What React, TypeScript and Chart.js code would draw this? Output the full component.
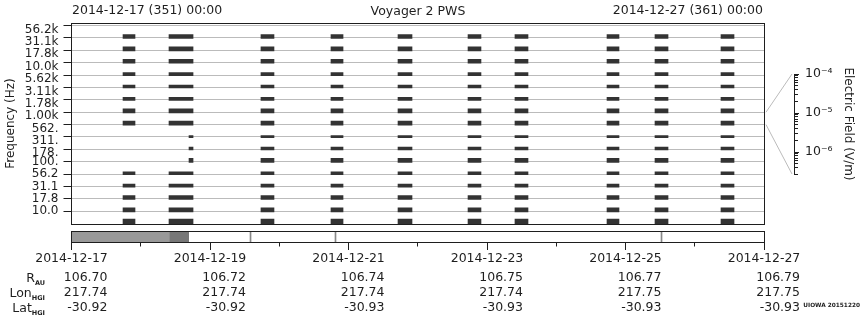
import React, { useEffect, useRef } from 'react';
import { Chart, registerables } from 'chart.js';

Chart.register(...registerables);

// ---------------- data ----------------
const titleStart = '2014-12-17 (351) 00:00';
const titleMain = 'Voyager 2 PWS';
const titleEnd = '2014-12-27 (361) 00:00';
const yAxisTitle = 'Frequency (Hz)';
const fieldTitle = 'Electric Field (V/m)';
const stampText = 'UIOWA 20151220';

// PWS channel labels (bottom -> top)
const freqLabels = ['10.0', '17.8', '31.1', '56.2', '100.', '178.', '311.', '562.', '1.00k', '1.78k', '3.11k', '5.62k', '10.0k', '17.8k', '31.1k', '56.2k'];

// Observation blocks, in days after 2014-12-17 00:00
const blockStart = [0.744, 1.408, 2.736, 3.747, 4.715, 5.726, 6.404, 7.733, 8.426, 9.379];
const blockEnd = [0.917, 1.755, 2.924, 3.921, 4.917, 5.913, 6.592, 7.906, 8.614, 9.567];

// 178 / 311 / 562 Hz channels: start of coverage inside each block (null = none)
const midChannels = [5, 6, 7];
const midStart: (number | null)[] = [null, 1.697, 2.736, 3.747, 4.715, 5.726, 6.404, 7.733, 8.426, 9.379];

// Coverage strip under the plot (days)
const stripStart = [0, 1.422];
const stripEnd = [1.422, 1.692];
const stripMarks = [2.578, 3.805, 8.513];

// Bottom axis (every 2 days)
const dateLabels = ['2014-12-17', '2014-12-19', '2014-12-21', '2014-12-23', '2014-12-25', '2014-12-27'];
const rAU = ['106.70', '106.72', '106.74', '106.75', '106.77', '106.79'];
const lonHGI = ['217.74', '217.74', '217.74', '217.74', '217.75', '217.75'];
const latHGI = ['-30.92', '-30.92', '-30.93', '-30.93', '-30.93', '-30.93'];
const rowNames = ['R', 'Lon', 'Lat'];
const rowSubs = ['AU', 'HGI', 'HGI'];

// Electric field colour-bar axis
const fieldMin = 2.75e-7;
const fieldMax = 1e-4;
const fieldChannel = 8;

// ---------------- styles ----------------
const FONT = "'DejaVu Sans', sans-serif";
const INK = '#1e1e1e';
const BAR = '#333333';
const GRID = '#bbbbbb';
const rowThickness = [5, 4, 4, 3, 3, 4, 3, 2, 4, 4, 3, 3, 3, 4, 4, 4];
const stripColors = ['#999999', '#777777'];
const markColor = '#888888';
const LABEL_DROP_FROM = 5; // upper tick labels sit a little below their tick
const LABEL_DROP_PX = 4;

const PLOT_LEFT = 71.5;
const PLOT_RIGHT_PAD = 96;
const PLOT_TOP = 23;
const PLOT_BOTTOM_PAD = 96;
const PLOT_H = 320 - PLOT_TOP - PLOT_BOTTOM_PAD;
const Y_MIN = -1.025;
const Y_MAX = 15.202;
const UNITS_PER_PX = (Y_MAX - Y_MIN) / PLOT_H;
const PX_PER_DAY = (860 - PLOT_RIGHT_PAD - PLOT_LEFT) / 10;

Chart.defaults.font.family = FONT;
Chart.defaults.color = INK;

const SUP: Record<string, string> = { '-': '⁻', '0': '⁰', '1': '¹', '2': '²', '3': '³', '4': '⁴', '5': '⁵', '6': '⁶', '7': '⁷', '8': '⁸', '9': '⁹' };
const powerLabel = (e: number) => '10' + String(e).split('').map((ch) => SUP[ch]).join('');
const isDecade = (v: number) => Math.abs(Math.log10(v) - Math.round(Math.log10(v))) < 1e-6;

const framePlugin = {
  id: 'frame',
  afterDatasetsDraw(chart: any) {
    const { ctx, chartArea: a } = chart;
    const l = Math.floor(a.left) + 0.5;
    const r = Math.floor(a.right) + 0.5;
    const t = Math.floor(a.top) + 0.5;
    const b = Math.floor(a.bottom) + 0.5;
    ctx.save();
    ctx.strokeStyle = INK;
    ctx.lineWidth = 1;
    ctx.strokeRect(l, t, r - l, b - t);
    ctx.restore();
  },
};

function buildMainDatasets() {
  return freqLabels.map((_, c) => {
    const t = rowThickness[c];
    const base = c === 0 ? Y_MIN : c - 1;
    const lift = c === 0 ? 0 : 0.6;
    const y = base + (t / 2 - lift) * UNITS_PER_PX;
    const data: any[] = [];
    blockStart.forEach((s, b) => {
      if (midChannels.includes(c)) {
        const ms = midStart[b];
        if (ms === null) return;
        data.push({ x: [ms, blockEnd[b]], y });
      } else {
        data.push({ x: [s, blockEnd[b]], y });
      }
    });
    return {
      label: freqLabels[c],
      data,
      backgroundColor: BAR,
      borderWidth: 0,
      barThickness: t,
      stack: 'all',
    };
  });
}

export default function App() {
  const mainRef = useRef<HTMLCanvasElement>(null);
  const stripRef = useRef<HTMLCanvasElement>(null);
  const fieldRef = useRef<HTMLCanvasElement>(null);

  useEffect(() => {
    const main = new Chart(mainRef.current as HTMLCanvasElement, {
      type: 'bar',
      data: { datasets: buildMainDatasets() as any },
      plugins: [framePlugin],
      options: {
        indexAxis: 'y',
        animation: false,
        responsive: false,
        events: [],
        layout: { padding: { left: 0, top: PLOT_TOP, right: PLOT_RIGHT_PAD, bottom: PLOT_BOTTOM_PAD } },
        plugins: { legend: { display: false }, tooltip: { enabled: false } },
        scales: {
          x: { type: 'linear', min: 0, max: 10, display: false, stacked: false },
          y: {
            type: 'linear',
            position: 'left',
            offset: false,
            min: Y_MIN,
            max: Y_MAX,
            afterFit: (s: any) => { s.width = PLOT_LEFT; },
            afterBuildTicks: (s: any) => { s.ticks = freqLabels.map((_, i) => ({ value: i })); },
            ticks: {
              autoSkip: false,
              padding: 5,
              color: INK,
              font: (ctx: any) => ({
                family: FONT,
                size: 12,
                lineHeight: ctx.index >= LABEL_DROP_FROM ? `${LABEL_DROP_PX * 2}px` : 1.2,
              }),
              callback: (v: any) => {
                const i = Math.round(Number(v));
                return i >= LABEL_DROP_FROM ? ['', freqLabels[i]] : freqLabels[i];
              },
            },
            grid: { offset: false, color: GRID, lineWidth: 1, tickColor: INK, tickLength: 8 },
            border: { display: true, color: INK },
            title: { display: true, text: yAxisTitle, color: INK, font: { family: FONT, size: 12 }, padding: { top: 4, bottom: 0 } },
          },
        },
      } as any,
    });

    const stripData: any[] = stripStart.map((s, i) => ({ x: [s, stripEnd[i]], y: 'coverage' }));
    const stripBg: string[] = stripStart.map((_, i) => stripColors[i]);
    stripMarks.forEach((m) => {
      stripData.push({ x: [m, m + 1 / PX_PER_DAY], y: 'coverage' });
      stripBg.push(markColor);
    });

    const strip = new Chart(stripRef.current as HTMLCanvasElement, {
      type: 'bar',
      data: {
        labels: ['coverage'],
        datasets: [{ data: stripData, backgroundColor: stripBg, borderWidth: 0, barPercentage: 1, categoryPercentage: 1 }],
      },
      plugins: [framePlugin],
      options: {
        indexAxis: 'y',
        animation: false,
        responsive: false,
        events: [],
        layout: { padding: { left: PLOT_LEFT, top: 231, right: PLOT_RIGHT_PAD, bottom: 0 } },
        plugins: { legend: { display: false }, tooltip: { enabled: false } },
        scales: {
          y: { type: 'category', display: false },
          x: {
            type: 'linear',
            position: 'bottom',
            weight: 1,
            min: 0,
            max: 10,
            afterFit: (s: any) => { s.height = 20; s.paddingLeft = 0; s.paddingRight = 0; },
            ticks: {
              stepSize: 1,
              autoSkip: false,
              maxRotation: 0,
              padding: 1,
              color: INK,
              font: { family: FONT, size: 12.5 },
              callback: (v: any) => (Number(v) % 2 === 0 ? dateLabels[Number(v) / 2] : ''),
            },
            grid: {
              drawOnChartArea: false,
              tickLength: 8,
              tickColor: INK,
              tickBorderDash: (ctx: any) => (ctx.tick && ctx.tick.value % 2 !== 0 ? [4.5, 20] : []),
            },
            border: { display: false },
          },
          x2: {
            type: 'linear',
            position: 'bottom',
            weight: 2,
            min: 0,
            max: 10,
            afterFit: (s: any) => { s.height = 58; s.paddingLeft = 0; s.paddingRight = 0; },
            ticks: {
              stepSize: 1,
              autoSkip: false,
              maxRotation: 0,
              align: 'end',
              labelOffset: 36,
              padding: 8,
              color: INK,
              font: { family: FONT, size: 12.5, lineHeight: 1.2 },
              callback: (v: any) => {
                const n = Number(v);
                if (n % 2 !== 0) return '';
                const i = n / 2;
                return [rAU[i], lonHGI[i], latHGI[i]];
              },
            },
            grid: { display: false, drawTicks: false },
            border: { display: false },
          },
        },
      } as any,
    });

    const connectorPlugin = {
      id: 'connector',
      afterDraw(chart: any) {
        const ys = main.scales.y;
        const yc = chart.scales.y;
        const x0 = main.chartArea.right + 2;
        const x1 = chart.chartArea.right - 2;
        const ctx = chart.ctx;
        ctx.save();
        ctx.strokeStyle = GRID;
        ctx.lineWidth = 1;
        ctx.beginPath();
        ctx.moveTo(x0, ys.getPixelForValue(fieldChannel));
        ctx.lineTo(x1, yc.top);
        ctx.moveTo(x0, ys.getPixelForValue(fieldChannel - 1));
        ctx.lineTo(x1, yc.bottom);
        ctx.stroke();
        ctx.restore();
      },
    };

    const field = new Chart(fieldRef.current as HTMLCanvasElement, {
      type: 'scatter',
      data: { datasets: [] },
      plugins: [connectorPlugin],
      options: {
        animation: false,
        responsive: false,
        events: [],
        layout: { padding: { left: 780, top: 74, right: 0, bottom: 146 } },
        plugins: { legend: { display: false }, tooltip: { enabled: false } },
        scales: {
          x: { type: 'linear', min: 0, max: 1, display: false },
          y: {
            type: 'logarithmic',
            position: 'right',
            min: fieldMin,
            max: fieldMax,
            afterFit: (s: any) => { s.width = 66; },
            afterBuildTicks: (s: any) => {
              s.ticks = s.ticks.filter((t: any) => {
                const m = t.value / Math.pow(10, Math.floor(Math.log10(t.value) + 1e-9));
                return Math.abs(m - 1.5) > 0.01;
              });
            },
            ticks: {
              autoSkip: false,
              padding: 6,
              color: INK,
              font: { family: FONT, size: 12.5 },
              callback: (v: any) => (isDecade(Number(v)) ? powerLabel(Math.round(Math.log10(Number(v)))) : ''),
            },
            grid: {
              drawOnChartArea: false,
              tickLength: 5,
              tickColor: INK,
              tickBorderDash: (ctx: any) => (ctx.tick && isDecade(ctx.tick.value) ? [] : [3, 20]),
            },
            border: { display: true, color: INK },
            title: { display: true, text: fieldTitle, color: INK, font: { family: FONT, size: 12 }, padding: { top: 5, bottom: 0 } },
          },
        },
      } as any,
    });

    return () => {
      field.destroy();
      strip.destroy();
      main.destroy();
    };
  }, []);

  const canvasStyle: React.CSSProperties = { position: 'absolute', left: 0, top: 0, width: 860, height: 320 };
  const textBase: React.CSSProperties = { position: 'absolute', whiteSpace: 'nowrap', fontFamily: FONT, color: INK, fontSize: 12.5, lineHeight: '15px' };

  return (
    <div style={{ position: 'absolute', left: 0, top: 0, width: 860, height: 320, background: '#fff', overflow: 'hidden' }}>
      <canvas ref={mainRef} width={860} height={320} style={canvasStyle} />
      <canvas ref={stripRef} width={860} height={320} style={canvasStyle} />
      <canvas ref={fieldRef} width={860} height={320} style={canvasStyle} />
      <div style={{ ...textBase, left: 72, top: 1.5 }}>{titleStart}</div>
      <div style={{ ...textBase, left: 318, width: 200, textAlign: 'center', top: 3 }}>{titleMain}</div>
      <div style={{ ...textBase, right: 97, top: 1.5, textAlign: 'right' }}>{titleEnd}</div>
      {rowNames.map((name, i) => (
        <div key={name} style={{ ...textBase, right: 815, top: 269.5 + i * 15, textAlign: 'right' }}>
          {name}
          <span style={{ fontSize: 6.5, fontWeight: 'bold', position: 'relative', top: 3 }}>{rowSubs[i]}</span>
        </div>
      ))}
      <div style={{ ...textBase, right: 0, top: 300, fontSize: 5.8, fontWeight: 'bold', lineHeight: '10px' }}>{stampText}</div>
    </div>
  );
}
